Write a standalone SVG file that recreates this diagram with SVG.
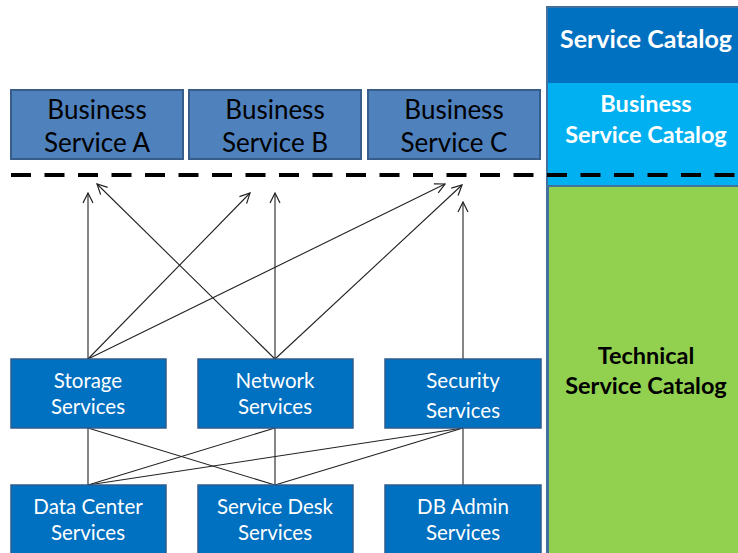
<svg xmlns="http://www.w3.org/2000/svg" width="738" height="553" viewBox="0 0 738 553">
<defs>
<style>
.biz rect{fill:#4F81BD;stroke:#385D8A;stroke-width:2}
.biz text{fill:#000;font-family:Lato,"Liberation Sans",sans-serif;font-size:26px;text-anchor:middle}
.svc rect{fill:#0070C0;stroke:#2E5C8E;stroke-width:1.5}
.svc text{fill:#fff;font-family:Lato,"Liberation Sans",sans-serif;font-size:20.5px;text-anchor:middle}
.cat text{font-family:Lato,"Liberation Sans",sans-serif;font-weight:bold;text-anchor:middle}
.conn line{stroke:#222;stroke-width:1.1;fill:none}
</style>
<marker id="arr" viewBox="0 0 12 12" refX="11" refY="6" markerWidth="12" markerHeight="12" markerUnits="userSpaceOnUse" orient="auto">
<path d="M1,1 L11,6 L1,11" fill="none" stroke="#222" stroke-width="1.2"/>
</marker>
</defs>
<rect width="738" height="553" fill="#fff"/>
<g id="catalog" class="cat">
<rect x="547" y="7" width="200" height="560" fill="#00B0F0" stroke="#41719C" stroke-width="2"/>
<rect x="548" y="8" width="200" height="75" fill="#0070C0"/>
<rect x="548" y="186" width="200" height="370" fill="#92D050" stroke="#41719C" stroke-width="2"/>
<text x="560" y="48" fill="#fff" font-size="25" style="text-anchor:start">Service Catalog</text>
<text x="646" y="112" fill="#fff" font-size="23.5">Business</text>
<text x="646" y="143" fill="#fff" font-size="23.5">Service Catalog</text>
<text x="646" y="364" fill="#000" font-size="23.5">Technical</text>
<text x="646" y="394" fill="#000" font-size="23.5">Service Catalog</text>
</g>
<line x1="11" y1="175" x2="738" y2="175" stroke="#000" stroke-width="4" stroke-dasharray="20 13.5"/>
<g id="bizA" class="biz"><rect x="11" y="90" width="172" height="69"/><text x="97" y="119">Business</text><text x="97" y="152">Service A</text></g>
<g id="bizB" class="biz"><rect x="189" y="90" width="172" height="69"/><text x="275" y="119">Business</text><text x="275" y="152">Service B</text></g>
<g id="bizC" class="biz"><rect x="368" y="90" width="172" height="69"/><text x="454" y="119">Business</text><text x="454" y="152">Service C</text></g>
<g id="connectors" class="conn">
<line x1="88" y1="359" x2="88" y2="193" marker-end="url(#arr)"/>
<line x1="88" y1="359" x2="250" y2="193" marker-end="url(#arr)"/>
<line x1="88" y1="359" x2="445" y2="184" marker-end="url(#arr)"/>
<line x1="275" y1="359" x2="97" y2="184" marker-end="url(#arr)"/>
<line x1="275" y1="359" x2="275" y2="193" marker-end="url(#arr)"/>
<line x1="275" y1="359" x2="462" y2="185" marker-end="url(#arr)"/>
<line x1="463" y1="359" x2="463" y2="202" marker-end="url(#arr)"/>
<line x1="88" y1="428" x2="88" y2="485"/>
<line x1="88" y1="428" x2="275" y2="485"/>
<line x1="275" y1="428" x2="88" y2="485"/>
<line x1="275" y1="428" x2="275" y2="485"/>
<line x1="463" y1="428" x2="88" y2="485"/>
<line x1="463" y1="428" x2="275" y2="485"/>
<line x1="463" y1="428" x2="463" y2="485"/>
</g>
<g id="storage" class="svc"><rect x="11" y="359" width="155" height="69"/><text x="88" y="388">Storage</text><text x="88" y="414">Services</text></g>
<g id="network" class="svc"><rect x="198" y="359" width="155" height="69"/><text x="275" y="388">Network</text><text x="275" y="414">Services</text></g>
<g id="security" class="svc"><rect x="385" y="359" width="156" height="69"/><text x="463" y="388" font-size="23.2">Security</text><text x="463" y="418" font-size="23.2">Services</text></g>
<g id="datacenter" class="svc"><rect x="11" y="485" width="155" height="75"/><text x="88" y="514">Data Center</text><text x="88" y="540">Services</text></g>
<g id="servicedesk" class="svc"><rect x="198" y="485" width="155" height="75"/><text x="275" y="514">Service Desk</text><text x="275" y="540">Services</text></g>
<g id="dbadmin" class="svc"><rect x="385" y="485" width="156" height="75"/><text x="463" y="514">DB Admin</text><text x="463" y="540">Services</text></g>
</svg>
